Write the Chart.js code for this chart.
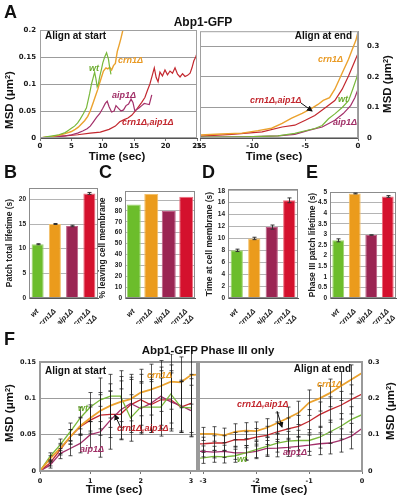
<!DOCTYPE html>
<html><head><meta charset="utf-8">
<script src="https://cdn.jsdelivr.net/npm/chart.js@4.4.1/dist/chart.umd.min.js"></script>
<style>
html,body{margin:0;padding:0;background:#fff;}
body{width:402px;height:501px;position:relative;overflow:hidden;font-family:"Liberation Sans",Arial,sans-serif;color:#111;}
#charts{position:absolute;left:0;top:0;width:402px;height:501px;}
canvas{position:absolute;}
.t{position:absolute;white-space:nowrap;line-height:1;}
.let{font-size:18px;font-weight:bold;}
.ttl{font-size:12px;font-weight:bold;transform:translateX(-50%);}
.al{font-size:10px;font-weight:bold;}
.sl{font-size:9px;font-weight:bold;font-style:italic;}
.ax{font-size:11.5px;font-weight:bold;transform:translate(-50%,-50%);}
.axv{font-size:11.5px;font-weight:bold;transform:translate(-50%,-50%) rotate(-90deg);}
.byt{font-size:8.5px;font-weight:bold;color:#222;transform:translate(-50%,-50%) rotate(-90deg);}
.wt{color:#6aab2c}.crn{color:#e99a24}.aip{color:#a02e66}.both{color:#c2262d}
sup{font-size:0.65em;vertical-align:0;position:relative;top:-0.45em;}
</style></head><body>
<div id="charts"></div>

<div class="t let" style="left:4px;top:3px">A</div>
<div class="t let" style="left:4px;top:163px">B</div>
<div class="t let" style="left:99px;top:163px">C</div>
<div class="t let" style="left:202px;top:163px">D</div>
<div class="t let" style="left:306px;top:163px">E</div>
<div class="t let" style="left:4px;top:330px">F</div>

<div class="t ttl" style="left:203px;top:16px">Abp1-GFP</div>
<div class="t ttl" style="left:208px;top:345px;font-size:11.5px">Abp1-GFP Phase III only</div>

<!-- Panel A labels -->
<div class="t al" style="left:45px;top:31px">Align at start</div>
<div class="t al" style="right:50px;top:31px">Align at end</div>
<div class="t sl wt" style="left:89px;top:64px">wt</div>
<div class="t sl crn" style="left:118px;top:56px">crn1Δ</div>
<div class="t sl aip" style="left:112px;top:91px">aip1Δ</div>
<div class="t sl both" style="left:122px;top:118px">crn1Δ,aip1Δ</div>
<div class="t sl crn" style="left:318px;top:55px">crn1Δ</div>
<div class="t sl both" style="left:250px;top:96px">crn1Δ,aip1Δ</div>
<div class="t sl wt" style="left:338px;top:95px">wt</div>
<div class="t sl aip" style="left:333px;top:118px">aip1Δ</div>
<div class="t axv" style="left:10px;top:100px">MSD (μm<sup>2</sup>)</div>
<div class="t axv" style="left:388px;top:84px">MSD (μm<sup>2</sup>)</div>
<div class="t ax" style="left:117px;top:157px">Time (sec)</div>
<div class="t ax" style="left:274px;top:157px">Time (sec)</div>

<!-- Bar titles -->
<div class="t byt" style="left:9px;top:243px">Patch total lifetime (s)</div>
<div class="t byt" style="left:102px;top:248px">% leaving cell membrane</div>
<div class="t byt" style="left:209px;top:244px">Time at cell membrane (s)</div>
<div class="t byt" style="left:312px;top:245px">Phase III patch lifetime (s)</div>

<!-- Panel F labels -->
<div class="t al" style="left:45px;top:366px">Align at start</div>
<div class="t al" style="right:51px;top:364px">Align at end</div>
<div class="t sl crn" style="left:147px;top:371px">crn1Δ</div>
<div class="t sl wt" style="left:78px;top:404px">wt</div>
<div class="t sl both" style="left:117px;top:424px">crn1Δ,aip1Δ</div>
<div class="t sl aip" style="left:80px;top:445px">aip1Δ</div>
<div class="t sl crn" style="left:317px;top:380px">crn1Δ</div>
<div class="t sl both" style="left:237px;top:400px">crn1Δ,aip1Δ</div>
<div class="t sl aip" style="left:283px;top:448px">aip1Δ</div>
<div class="t sl wt" style="left:237px;top:455px">wt</div>
<div class="t axv" style="left:10px;top:413px">MSD (μm<sup>2</sup>)</div>
<div class="t axv" style="left:391px;top:411px">MSD (μm<sup>2</sup>)</div>
<div class="t ax" style="left:114px;top:490px">Time (sec)</div>
<div class="t ax" style="left:279px;top:490px">Time (sec)</div>

<svg width="402" height="501" style="position:absolute;left:0;top:0;pointer-events:none">
<defs><marker id="ah" markerWidth="6" markerHeight="6" refX="5" refY="3" orient="auto" markerUnits="userSpaceOnUse"><path d="M0,0 L6,3 L0,6 z" fill="#111"/></marker></defs>
<line x1="301" y1="103" x2="312" y2="111" stroke="#111" stroke-width="1" marker-end="url(#ah)"/>
<line x1="120" y1="426" x2="115" y2="415" stroke="#111" stroke-width="1" marker-end="url(#ah)"/>
<line x1="277" y1="411" x2="282" y2="427" stroke="#111" stroke-width="1" marker-end="url(#ah)"/>
</svg>

<script>
// ================= DATA =================
// Panel A – align at start (time in s, MSD in µm²)
const aStartWtTime  = [0,1,2,3,4,4.5,5,5.5,6,6.4,6.9,7.4,7.9,8.2,8.45,8.7,8.9,9.1,9.3,9.5,9.8,10.0,10.3,10.6,10.9,11.1,11.3];
const aStartWtMsd   = [0,0.002,0.004,0.006,0.01,0.014,0.018,0.022,0.028,0.035,0.045,0.056,0.082,0.1,0.111,0.122,0.11,0.095,0.1,0.113,0.128,0.139,0.15,0.158,0.146,0.13,0.118];
const aStartCrnTime = [0,1,2,3,4,5,5.6,6.1,6.6,7.1,7.6,8.0,8.45,8.9,9.2,9.5,9.8,10.1,10.5,10.8,11.1,11.4,11.7,12.0,12.3,12.6,12.9,13.2,13.5];
const aStartCrnMsd  = [0,0.002,0.003,0.005,0.008,0.012,0.016,0.02,0.026,0.032,0.04,0.05,0.065,0.08,0.09,0.102,0.113,0.124,0.13,0.128,0.131,0.126,0.134,0.138,0.16,0.172,0.185,0.2,0.215];
const aStartAipTime = [0,2,4,5,6,6.8,7.5,8,8.5,9,9.5,10,10.4,10.7,11,11.4,11.8,12.1,12.5,12.9,13.3,13.7,14.1,14.5,14.8,15.1,15.4,15.8,16.2,16.6,17,17.4,17.8];
const aStartAipMsd  = [0,0.002,0.004,0.006,0.009,0.013,0.017,0.022,0.03,0.038,0.045,0.055,0.064,0.068,0.058,0.048,0.05,0.06,0.055,0.05,0.052,0.06,0.063,0.072,0.066,0.05,0.053,0.056,0.06,0.064,0.063,0.062,0.08];
const aStartBothTime = [0,2,4,6,8,9.6,11,12,12.7,13.4,14,14.6,15.2,15.7,16.2,16.7,17.1,17.5,17.9,18.2,18.5,18.8,19.1,19.5,19.9,20.3,20.7,21.1,21.5,21.9,22.3,22.7,23.1,23.5,23.9,24.2,24.5,24.8,25];
const aStartBothMsd  = [0,0.002,0.004,0.006,0.009,0.011,0.016,0.022,0.03,0.034,0.037,0.042,0.05,0.058,0.066,0.075,0.088,0.1,0.117,0.13,0.112,0.104,0.122,0.115,0.126,0.117,0.124,0.12,0.13,0.118,0.113,0.119,0.114,0.116,0.12,0.13,0.143,0.15,0.157];

// Panel A – align at end
const aEndCrnTime  = [-15,-13,-11,-9.5,-8.2,-7.2,-6.3,-5.3,-4.4,-3.8,-3.3,-2.7,-2.2,-1.8,-1.5,-0.9,-0.5,-0.2,0];
const aEndCrnMsd   = [0.01,0.013,0.016,0.024,0.032,0.048,0.065,0.081,0.097,0.11,0.123,0.132,0.16,0.19,0.213,0.258,0.294,0.32,0.348];
const aEndBothTime = [-15,-12,-9.1,-7.2,-6,-5,-4.1,-3.2,-2.2,-1.5,-0.9,-0.3,0];
const aEndBothMsd  = [0.006,0.012,0.02,0.036,0.042,0.058,0.074,0.097,0.123,0.16,0.203,0.252,0.277];
const aEndWtTime   = [-15,-10.8,-7.6,-6,-4.1,-3.4,-2.8,-2.2,-1.5,-0.9,-0.5,-0.1,0];
const aEndWtMsd    = [0.003,0.004,0.007,0.015,0.031,0.041,0.063,0.079,0.1,0.122,0.16,0.2,0.22];
const aEndAipTime  = [-15,-10.8,-7.6,-6,-4.7,-3.4,-2.2,-1.4,-0.7,-0.3,0];
const aEndAipMsd   = [0.003,0.004,0.007,0.012,0.025,0.036,0.058,0.08,0.106,0.132,0.16];

// Bar panels B–E
const barCategories   = ['wt','crn1Δ','aip1Δ',['crn1Δ','aip1Δ']];
const patchLifetime    = [10.9,15.0,14.6,21.2];
const patchLifetimeErr = [0.1,0.1,0.15,0.2];
const pctLeaving       = [86,95.5,80,93];
const timeAtMembrane   = [8.0,10.0,11.9,16.4];
const timeAtMembraneErr= [0.2,0.2,0.35,0.4];
const phase3Lifetime   = [2.72,4.93,2.97,4.79];
const phase3LifetimeErr= [0.07,0.02,0.01,0.04];

// Panel F – align at start
const fStartTime   = [0,0.2,0.4,0.6,0.8,1.0,1.2,1.4,1.6,1.8,2.0,2.2,2.4,2.6,2.8,3.0,3.2];
const fStartCrn    = [0,0.017,0.031,0.047,0.062,0.073,0.083,0.09,0.095,0.099,0.108,0.112,0.117,0.123,0.122,0.132,0.133];
const fStartCrnErr = [null,0.004,0.007,0.01,0.012,0.018,0.025,0.03,0.035,0.03,0.032,0.035,0.035,0.038,0.035,0.04,null];
const fStartWt     = [0,0.02,0.036,0.054,0.073,0.088,0.098,0.103,0.103,0.073,0.088,0.088,0.088,0.106,0.088,0.087];
const fStartWtErr  = [null,0.005,0.008,0.012,0.015,0.02,0.03,0.03,0.035,0.032,0.035,0.035,0.04,0.04,0.035,0.04];
const fStartAip    = [0,0.008,0.024,0.031,0.038,0.05,0.054,0.07,0.084,0.093,0.086,0.093,0.103,0.095,0.09,0.083];
const fStartAipErr = [null,0.004,0.007,0.01,0.013,0.018,0.035,0.04,0.04,0.04,0.035,0.04,0.04,0.04,0.035,0.035];
const fStartBoth   = [0,0.011,0.029,0.047,0.061,0.07,0.077,0.078,0.078,0.091,0.098,0.091,0.098,0.098,0.088,0.093];
const fStartBothErr= [null,0.004,0.007,0.01,0.012,0.018,0.028,0.032,0.035,0.035,0.035,0.035,0.04,0.04,0.035,0.04];

// Panel F – align at end
const fEndTime   = [-3.2,-3.0,-2.8,-2.6,-2.4,-2.2,-2.0,-1.8,-1.6,-1.4,-1.2,-1.0,-0.8,-0.6,-0.4,-0.2,0];
const fEndCrn    = [0.102,0.102,0.102,0.098,0.108,0.111,0.11,0.119,0.132,0.146,0.16,0.188,0.2,0.215,0.234,0.252,0.27];
const fEndCrnErr = [null,0.018,0.02,0.02,0.022,0.022,0.025,0.025,0.028,0.03,0.032,0.035,0.035,0.038,0.04,0.04,null];
const fEndBoth   = [0.074,0.075,0.077,0.077,0.086,0.086,0.093,0.098,0.108,0.116,0.123,0.137,0.155,0.169,0.181,0.197,0.212];
const fEndBothErr= [null,0.018,0.02,0.02,0.02,0.022,0.024,0.025,0.027,0.03,0.03,0.032,0.035,0.035,0.038,0.04,null];
const fEndAip    = [0.054,0.054,0.052,0.054,0.05,0.05,0.054,0.062,0.063,0.065,0.068,0.071,0.075,0.077,0.084,0.096,0.117];
const fEndAipErr = [null,0.015,0.016,0.017,0.018,0.02,0.02,0.022,0.024,0.025,0.027,0.028,0.03,0.03,0.032,0.035,null];
const fEndWt     = [0.034,0.036,0.04,0.039,0.042,0.05,0.059,0.068,0.077,0.082,0.084,0.084,0.093,0.108,0.123,0.142,0.155];
const fEndWtErr  = [null,0.015,0.016,0.017,0.018,0.02,0.022,0.024,0.025,0.027,0.028,0.03,0.03,0.032,0.035,0.035,null];

// Tick values
const aStartXTicks = [0,5,10,15,20,25];
const aStartYTicks = [0,0.05,0.1,0.15,0.2];
const aEndXTicks   = [-15,-10,-5,0];
const aEndYTicks   = [0,0.1,0.2,0.3];
const bYTicks = [0,5,10,15,20];
const cYTicks = [0,10,20,30,40,50,60,70,80,90];
const dYTicks = [0,2,4,6,8,10,12,14,16,18];
const eYTicks = [0,0.5,1,1.5,2,2.5,3,3.5,4,4.5,5];
const fStartXTicks = [0,1,2,3];
const fStartYTicks = [0,0.05,0.1,0.15];
const fEndXTicks   = [-3,-2,-1,0];
const fEndYTicks   = [0,0.1,0.2,0.3];

// ================= STYLE =================
const COL = {wt:'#78b83a', crn:'#eba22e', aip:'#a3306a', both:'#c3282f'};
const BAR = ['#6cbd2b','#eb9b1c','#9b2553','#d4112d'];
const BARB = ['#9fd46e','#f3c06a','#bf5f86','#ee6a7c'];

Chart.defaults.font.family = '"DejaVu Sans", sans-serif';
Chart.defaults.font.size = 7;
Chart.defaults.font.weight = 'bold';
Chart.defaults.color = '#1a1a1a';

const framePlugin = {
  id:'frame',
  afterDatasetsDraw(chart, args, o){
    const {ctx, chartArea:c} = chart;
    ctx.save(); ctx.strokeStyle = o.color || '#999'; ctx.lineWidth = o.width || 1;
    const off = (o.width||1) % 2 ? 0.5 : 0;
    ctx.strokeRect(c.left+off, c.top+off, c.right-c.left-2*off, c.bottom-c.top-2*off);
    ctx.restore();
  }
};
const errPlugin = {
  id:'errbars',
  afterDatasetsDraw(chart, args, o){
    if(!o || !o.on) return;
    const {ctx, chartArea:a} = chart;
    ctx.save();
    ctx.beginPath(); ctx.rect(a.left, a.top-8, a.right-a.left, a.bottom-a.top+8); ctx.clip();
    ctx.strokeStyle = o.color; ctx.lineWidth = o.width;
    chart.data.datasets.forEach((ds, di) => {
      if(!ds.errors) return;
      const meta = chart.getDatasetMeta(di);
      const ys = chart.scales[meta.yAxisID];
      meta.data.forEach((el, i) => {
        const e = ds.errors[i]; if(e == null) return;
        const raw = ds.data[i]; const v = (typeof raw === 'object') ? raw.y : raw;
        const x = Math.round(el.x) + 0.5, y1 = ys.getPixelForValue(v+e), y2 = ys.getPixelForValue(v-e);
        ctx.beginPath();
        ctx.moveTo(x, y1); ctx.lineTo(x, y2);
        ctx.moveTo(x-o.cap, y1); ctx.lineTo(x+o.cap, y1);
        ctx.moveTo(x-o.cap, y2); ctx.lineTo(x+o.cap, y2);
        ctx.stroke();
      });
    });
    ctx.restore();
  }
};

const P = 12;
function pts(t, v){ return v.map((y,i)=>({x:t[i], y:y})); }
function fixTicks(arr){ return sc => { sc.ticks = arr.map(v=>({value:v})); }; }

function addChart(area, ax, cfg){
  const w = area.r-area.l+ax.left+ax.right+2*P, h = area.b-area.t+ax.bottom+2*P;
  const c = document.createElement('canvas');
  c.width = w; c.height = h;
  Object.assign(c.style, {left:(area.l-ax.left-P)+'px', top:(area.t-P)+'px', width:w+'px', height:h+'px'});
  document.getElementById('charts').appendChild(c);
  const o = cfg.options;
  o.responsive = false; o.animation = false; o.devicePixelRatio = 1; o.maintainAspectRatio = false;
  o.layout = {padding:P};
  o.plugins = Object.assign({legend:{display:false}, tooltip:{enabled:false}}, o.plugins||{});
  o.scales.x.afterFit = sc => { sc.height = ax.bottom; };
  o.scales.y.afterFit = sc => { sc.width = (o.scales.y.position==='right') ? ax.right : ax.left; };
  cfg.plugins = [framePlugin, errPlugin];
  return new Chart(c, cfg);
}

function lineDS(t, v, color, bw, err){
  return {data:pts(t,v), borderColor:color, borderWidth:bw, pointRadius:0, fill:false, tension:0, errors:err};
}
function xLin(min, max, ticks, pad, fs){
  return {type:'linear', min:min, max:max, afterBuildTicks:fixTicks(ticks),
    ticks:{autoSkip:false, maxRotation:0, padding:pad, callback:v=>String(v), font:{size:fs||7}},
    grid:{display:true, drawOnChartArea:false, drawTicks:true, tickLength:3, color:'#777'},
    border:{color:'#555'}};
}
function yLin(min, max, ticks, pos, pad, fs){
  return {type:'linear', position:pos, min:min, max:max, afterBuildTicks:fixTicks(ticks),
    ticks:{autoSkip:false, padding:pad, callback:v=>String(v), font:{size:fs||7}},
    grid:{color:'#9c9c9c', drawTicks:false}, border:{color:'#999'}};
}

// ---------- Panel A left ----------
addChart({l:40,t:30,r:197,b:138}, {left:28,right:0,bottom:20}, {
  type:'line',
  data:{datasets:[
    lineDS(aStartWtTime, aStartWtMsd, COL.wt, 1.2),
    lineDS(aStartCrnTime, aStartCrnMsd, COL.crn, 1.4),
    lineDS(aStartAipTime, aStartAipMsd, COL.aip, 1.2),
    lineDS(aStartBothTime, aStartBothMsd, COL.both, 1.2)
  ]},
  options:{plugins:{frame:{color:'#a0a0a0',width:1}}, scales:{
    x:xLin(0,25,aStartXTicks,1), y:yLin(0,0.2,aStartYTicks,'left',4)}}
});
// ---------- Panel A right ----------
addChart({l:200,t:30,r:358,b:138}, {left:0,right:32,bottom:20}, {
  type:'line',
  data:{datasets:[
    lineDS(aEndWtTime, aEndWtMsd, COL.wt, 1.2),
    lineDS(aEndCrnTime, aEndCrnMsd, COL.crn, 1.4),
    lineDS(aEndAipTime, aEndAipMsd, COL.aip, 1.2),
    lineDS(aEndBothTime, aEndBothMsd, COL.both, 1.2)
  ]},
  options:{plugins:{frame:{color:'#a0a0a0',width:1}}, scales:{
    x:xLin(-15,0,aEndXTicks,1), y:yLin(0,0.35,aEndYTicks,'right',9)}}
});

// ---------- Bars ----------
function barChart(area, values, errs, max, ticks, pct){
  addChart(area, {left:24,right:0,bottom:26}, {
    type:'bar',
    data:{labels:barCategories, datasets:[{data:values, backgroundColor:BAR, borderColor:BARB, borderWidth:1,
      barPercentage:pct, categoryPercentage:1, errors:errs}]},
    options:{plugins:{frame:{color:'#8c8c8c',width:1}, errbars:{on:true,color:'#333',width:1,cap:2}},
      scales:{
        x:{type:'category', grid:{display:false}, border:{color:'#555'},
           ticks:{minRotation:45, maxRotation:45, padding:1, autoSkip:false,
                  font:{family:'"Liberation Sans", Arial, sans-serif', size:7.5, style:'italic', weight:'bold'}}},
        y:{type:'linear', position:'left', min:0, max:max, afterBuildTicks:fixTicks(ticks),
           ticks:{autoSkip:false, padding:3, callback:v=>String(v),
                  font:{family:'"Liberation Sans", Arial, sans-serif', size:6.5, weight:'bold'}},
           grid:{color:'#b4b4b4', drawTicks:false}, border:{color:'#8c8c8c'}}
      }}
  });
}
barChart({l:29,t:188,r:98,b:298}, patchLifetime, patchLifetimeErr, 22.3, bYTicks, 0.7);
barChart({l:125,t:191,r:195,b:298}, pctLeaving, null, 98.3, cYTicks, 0.8);
barChart({l:228,t:189,r:298,b:298}, timeAtMembrane, timeAtMembraneErr, 18.3, dYTicks, 0.7);
barChart({l:330,t:192,r:396,b:298}, phase3Lifetime, phase3LifetimeErr, 5, eYTicks, 0.72);

// ---------- Panel F left ----------
addChart({l:40,t:362,r:197,b:471}, {left:28,right:0,bottom:14}, {
  type:'line',
  data:{datasets:[
    lineDS(fStartTime, fStartCrn, COL.crn, 1.8, fStartCrnErr),
    lineDS(fStartTime, fStartWt, COL.wt, 1.3, fStartWtErr),
    lineDS(fStartTime, fStartAip, COL.aip, 1.3, fStartAipErr),
    lineDS(fStartTime, fStartBoth, COL.both, 1.3, fStartBothErr)
  ]},
  options:{plugins:{frame:{color:'#9a9a9a',width:2}, errbars:{on:true,color:'rgba(30,30,30,0.75)',width:1,cap:2}},
    scales:{x:xLin(0,3.12,fStartXTicks,3,6.5), y:yLin(0,0.15,fStartYTicks,'left',4,6.5)}}
});
// ---------- Panel F right ----------
addChart({l:199,t:362,r:362,b:471}, {left:0,right:32,bottom:14}, {
  type:'line',
  data:{datasets:[
    lineDS(fEndTime, fEndCrn, COL.crn, 1.8, fEndCrnErr),
    lineDS(fEndTime, fEndWt, COL.wt, 1.3, fEndWtErr),
    lineDS(fEndTime, fEndAip, COL.aip, 1.3, fEndAipErr),
    lineDS(fEndTime, fEndBoth, COL.both, 1.3, fEndBothErr)
  ]},
  options:{plugins:{frame:{color:'#9a9a9a',width:2}, errbars:{on:true,color:'rgba(30,30,30,0.75)',width:1,cap:2}},
    scales:{x:xLin(-3.08,0,fEndXTicks,3,6.5), y:yLin(0,0.3,fEndYTicks,'right',6,6.5)}}
});
</script>
</body></html>
